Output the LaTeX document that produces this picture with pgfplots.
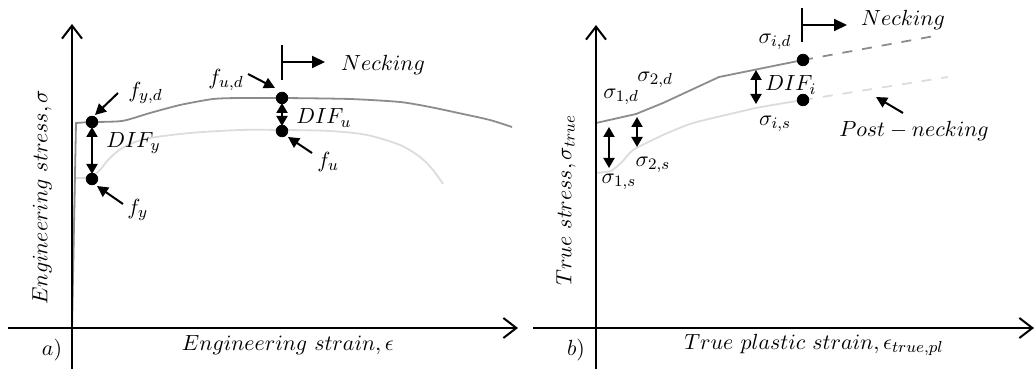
\documentclass[border=0pt]{standalone}
\usepackage{pgfplots}
\pgfplotsset{compat=1.18}
\usetikzlibrary{arrows.meta}
\definecolor{dyn}{RGB}{140,140,140}
\definecolor{sta}{RGB}{220,220,220}
\pgfplotsset{schem/.style={hide axis, clip=false, scale only axis, width=259pt, height=184.5pt, ymin=0, ymax=369, anchor=south west}}
\tikzset{
  axarr/.style={line width=1pt, -{Straight Barb[length=6.5pt,width=10pt,line width=1pt]}},
  ann/.style={line width=1pt, -{Triangle[length=5.5pt,width=5.5pt]}},
  dbl/.style={line width=1pt, {Triangle[length=5pt,width=5.5pt]}-{Triangle[length=5pt,width=5.5pt]}},
  neck/.style={line width=1pt, -{Triangle[length=6.5pt,width=6pt]}},
  lbl/.style={font=\fontsize{11}{13}\selectfont, inner sep=0pt},
  dynl/.style={dyn, line width=0.9pt},
  stal/.style={sta, line width=0.9pt},
}
\begin{document}
\begin{tikzpicture}
\useasboundingbox (0,0) rectangle (518pt,184.5pt);
% ---------------- panel a ----------------
\begin{axis}[schem, at={(0pt,0pt)}, xmin=0, xmax=518]
\addplot[stal] coordinates {(72,41) (75,191) (90,191)};
\addplot[stal, smooth, tension=0.5] coordinates {(90,191) (100,199) (108,209) (118,218) (130,225) (150,231) (190,236) (240,239) (283,239) (330,238) (367,234) (400,224) (420,212) (433,199) (443,185)};
\addplot[dynl] coordinates {(72,41) (76,246) (90,247)};
\addplot[dynl, smooth, tension=0.4] coordinates {(90,247) (122,248) (150,256) (180,264) (213,270) (240,271) (283,271) (350,270) (400,267) (430,262) (463,255) (490,249) (512,242)};
\addplot[axarr] coordinates {(72,0) (72,345)};
\addplot[axarr] coordinates {(8,41) (518,41)};
\addplot[only marks, mark=*, mark size=2.9pt, black] coordinates {(92,247) (92,190) (282,271) (282,238)};
\draw[dbl] (axis cs:92,242) -- (axis cs:92,195);
\draw[dbl] (axis cs:282,266) -- (axis cs:282,243);
\draw[ann] (axis cs:118,276) -- (axis cs:95,254);
\draw[ann] (axis cs:123,165) -- (axis cs:97,183);
\draw[ann] (axis cs:248,295) -- (axis cs:275,281);
\draw[ann] (axis cs:312,216) -- (axis cs:288,232);
\node[lbl, anchor=west] at (axis cs:128,276) {$f_{y,d}$};
\node[lbl, anchor=west] at (axis cs:127,159) {$f_{y}$};
\node[lbl] at (axis cs:226,289) {$f_{u,d}$};
\node[lbl, anchor=west] at (axis cs:317,207) {$f_{u}$};
\node[lbl, anchor=west] at (axis cs:106,226) {$DIF_{y}$};
\node[lbl, anchor=west] at (axis cs:296,251) {$DIF_{u}$};
\draw[line width=1pt] (axis cs:282,324) -- (axis cs:282,289);
\draw[neck] (axis cs:282,307) -- (axis cs:325,307);
\node[lbl] at (axis cs:383,304) {$Necking$};
\node[lbl, rotate=90] at (axis cs:42,172) {$Engineering\ stress, \sigma$};
\node[lbl] at (axis cs:288,24) {$Engineering\ strain, \epsilon$};
\node[lbl] at (axis cs:52,19) {$a)$};
\end{axis}
% ---------------- panel b ----------------
\begin{axis}[schem, at={(259pt,0pt)}, xmin=518, xmax=1036]
\addplot[stal, smooth, tension=0.3] coordinates {(596,196) (611,198) (622,207) (633,219) (663,234) (693,246) (756,261) (803,269)};
\addplot[stal, dash pattern=on 5pt off 5pt] coordinates {(803,269) (948,292)};
\addplot[dynl] coordinates {(596,246) (636,255) (663,266) (719,292) (803,309)};
\addplot[dynl, dash pattern=on 5pt off 5pt] coordinates {(803,309) (940,334)};
\addplot[axarr] coordinates {(596,0) (596,344)};
\addplot[axarr] coordinates {(533,41) (1034,41)};
\addplot[only marks, mark=*, mark size=2.9pt, black] coordinates {(803,309) (803,269)};
\draw[dbl] (axis cs:609,242) -- (axis cs:609,201);
\draw[dbl] (axis cs:637,252) -- (axis cs:637,222);
\draw[dbl] (axis cs:756,299) -- (axis cs:756,265);
\node[lbl] at (axis cs:621,272) {$\sigma_{1,d}$};
\node[lbl] at (axis cs:655,289) {$\sigma_{2,d}$};
\node[lbl] at (axis cs:619,187) {$\sigma_{1,s}$};
\node[lbl] at (axis cs:653,204) {$\sigma_{2,s}$};
\node[lbl] at (axis cs:775,327) {$\sigma_{i,d}$};
\node[lbl] at (axis cs:775,245) {$\sigma_{i,s}$};
\node[lbl, anchor=west] at (axis cs:765,284) {$DIF_{i}$};
\draw[ann] (axis cs:903,256) -- (axis cs:876,272);
\node[lbl] at (axis cs:914,238) {$Post-necking$};
\draw[line width=1pt] (axis cs:802,361) -- (axis cs:802,327);
\draw[neck] (axis cs:802,344) -- (axis cs:847,344);
\node[lbl] at (axis cs:903,349) {$Necking$};
\node[lbl, rotate=90] at (axis cs:566,169) {$True\ stress, \sigma_{true}$};
\node[lbl] at (axis cs:814,24) {$True\ plastic\ strain, \epsilon_{true,pl}$};
\node[lbl] at (axis cs:576,19) {$b)$};
\end{axis}
\end{tikzpicture}
\end{document}
